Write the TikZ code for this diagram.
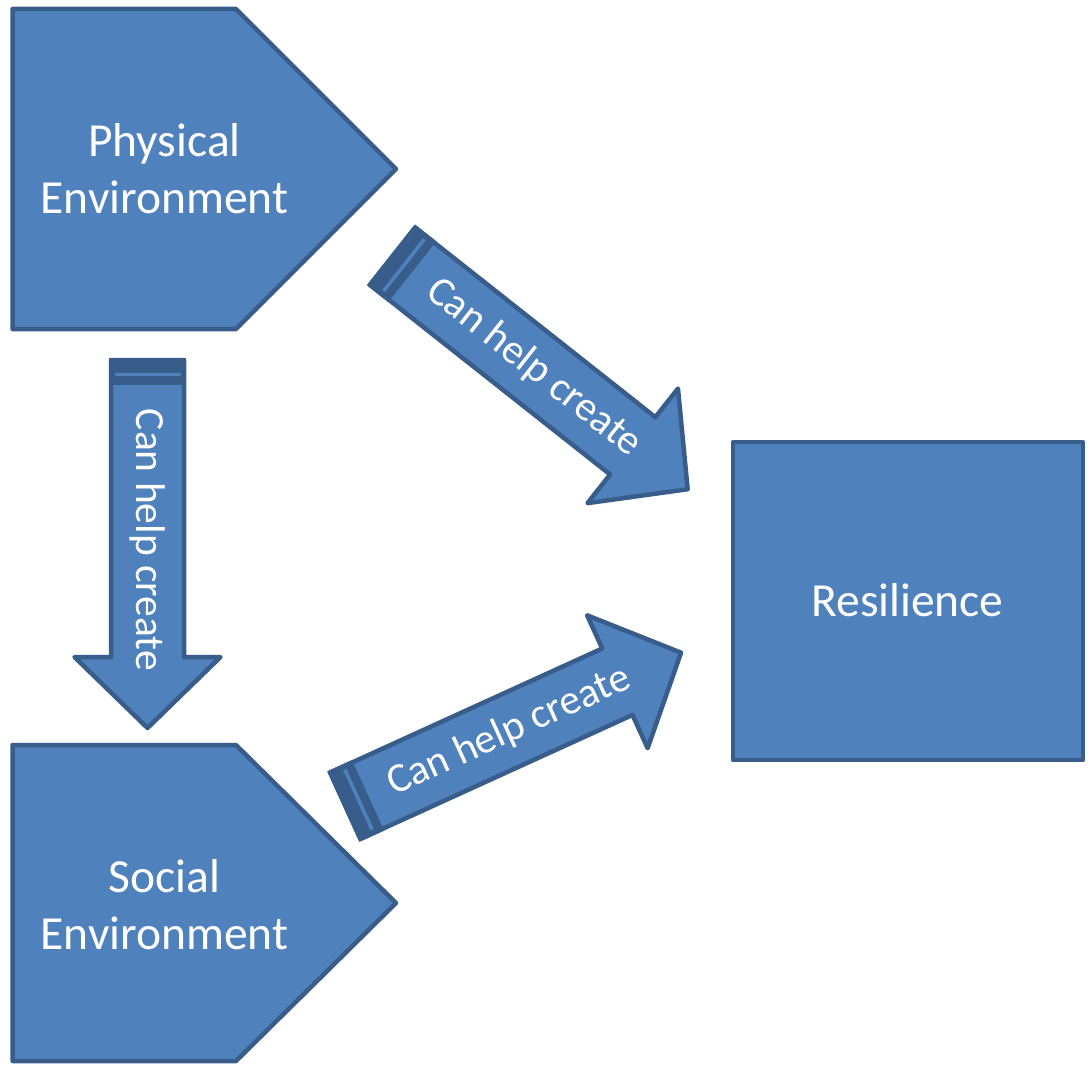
\documentclass[tikz,border=0pt]{standalone}
\usepackage{fontspec}
\setmainfont{Carlito}
\definecolor{boxfill}{HTML}{4F81BD}
\definecolor{boxline}{HTML}{385D8A}
\tikzset{
 shapebox/.style={fill=boxfill, draw=boxline, line width=4.5pt, line join=round},
 stripeband/.style={fill=boxline},
 stripeline/.style={draw=boxfill, line width=3.5pt},
 bigtext/.style={text=white, align=center, font=\fontsize{47.5}{57}\selectfont, inner sep=0pt},
 arrowtext/.style={text=white, font=\fontsize{41.5}{49}\selectfont, inner sep=0pt},
}
\newcommand{\stripedarrow}[6]{%
 \begin{scope}[shift={(#1,#2)}, rotate=#3]
  \path[shapebox] (0,36.5) -- (#4,36.5) -- (#4,73) -- (#5,0) -- (#4,-73) -- (#4,-36.5) -- (0,-36.5) -- cycle;
  \fill[stripeband] (-2.25,38.75) rectangle (25,-38.75);
  \draw[stripeline] (14.5,33) -- (14.5,-33);
  \node[arrowtext, rotate=#3] (#6) at (180,0) {Can help create};
 \end{scope}}
\begin{document}
\begin{tikzpicture}[x=1pt,y=1pt]
\useasboundingbox (0,0) rectangle (1091,-1065);
% Physical environment
\path[shapebox] (12.5,-9) -- (236,-9) -- (396,-169) -- (236,-329) -- (12.5,-329) -- cycle;
\node[bigtext] (phys) at (164.5,-169) {Physical\\Environment};
% Social environment
\path[shapebox] (12.5,-745) -- (236,-745) -- (396,-903) -- (236,-1061) -- (12.5,-1061) -- cycle;
\node[bigtext] (soc) at (164.5,-904.5) {Social\\Environment};
% Resilience
\path[shapebox] (733,-442) rectangle (1083,-760);
\node[bigtext] (res) at (907.5,-600.5) {Resilience};
% arrows
\stripedarrow{147.5}{-360}{-90}{297}{368}{a1}
\stripedarrow{392.6}{-256.2}{-38.3}{306}{376}{a2}
\stripedarrow{345.3}{-805.7}{24.5}{299}{369}{a3}
\end{tikzpicture}
\end{document}
